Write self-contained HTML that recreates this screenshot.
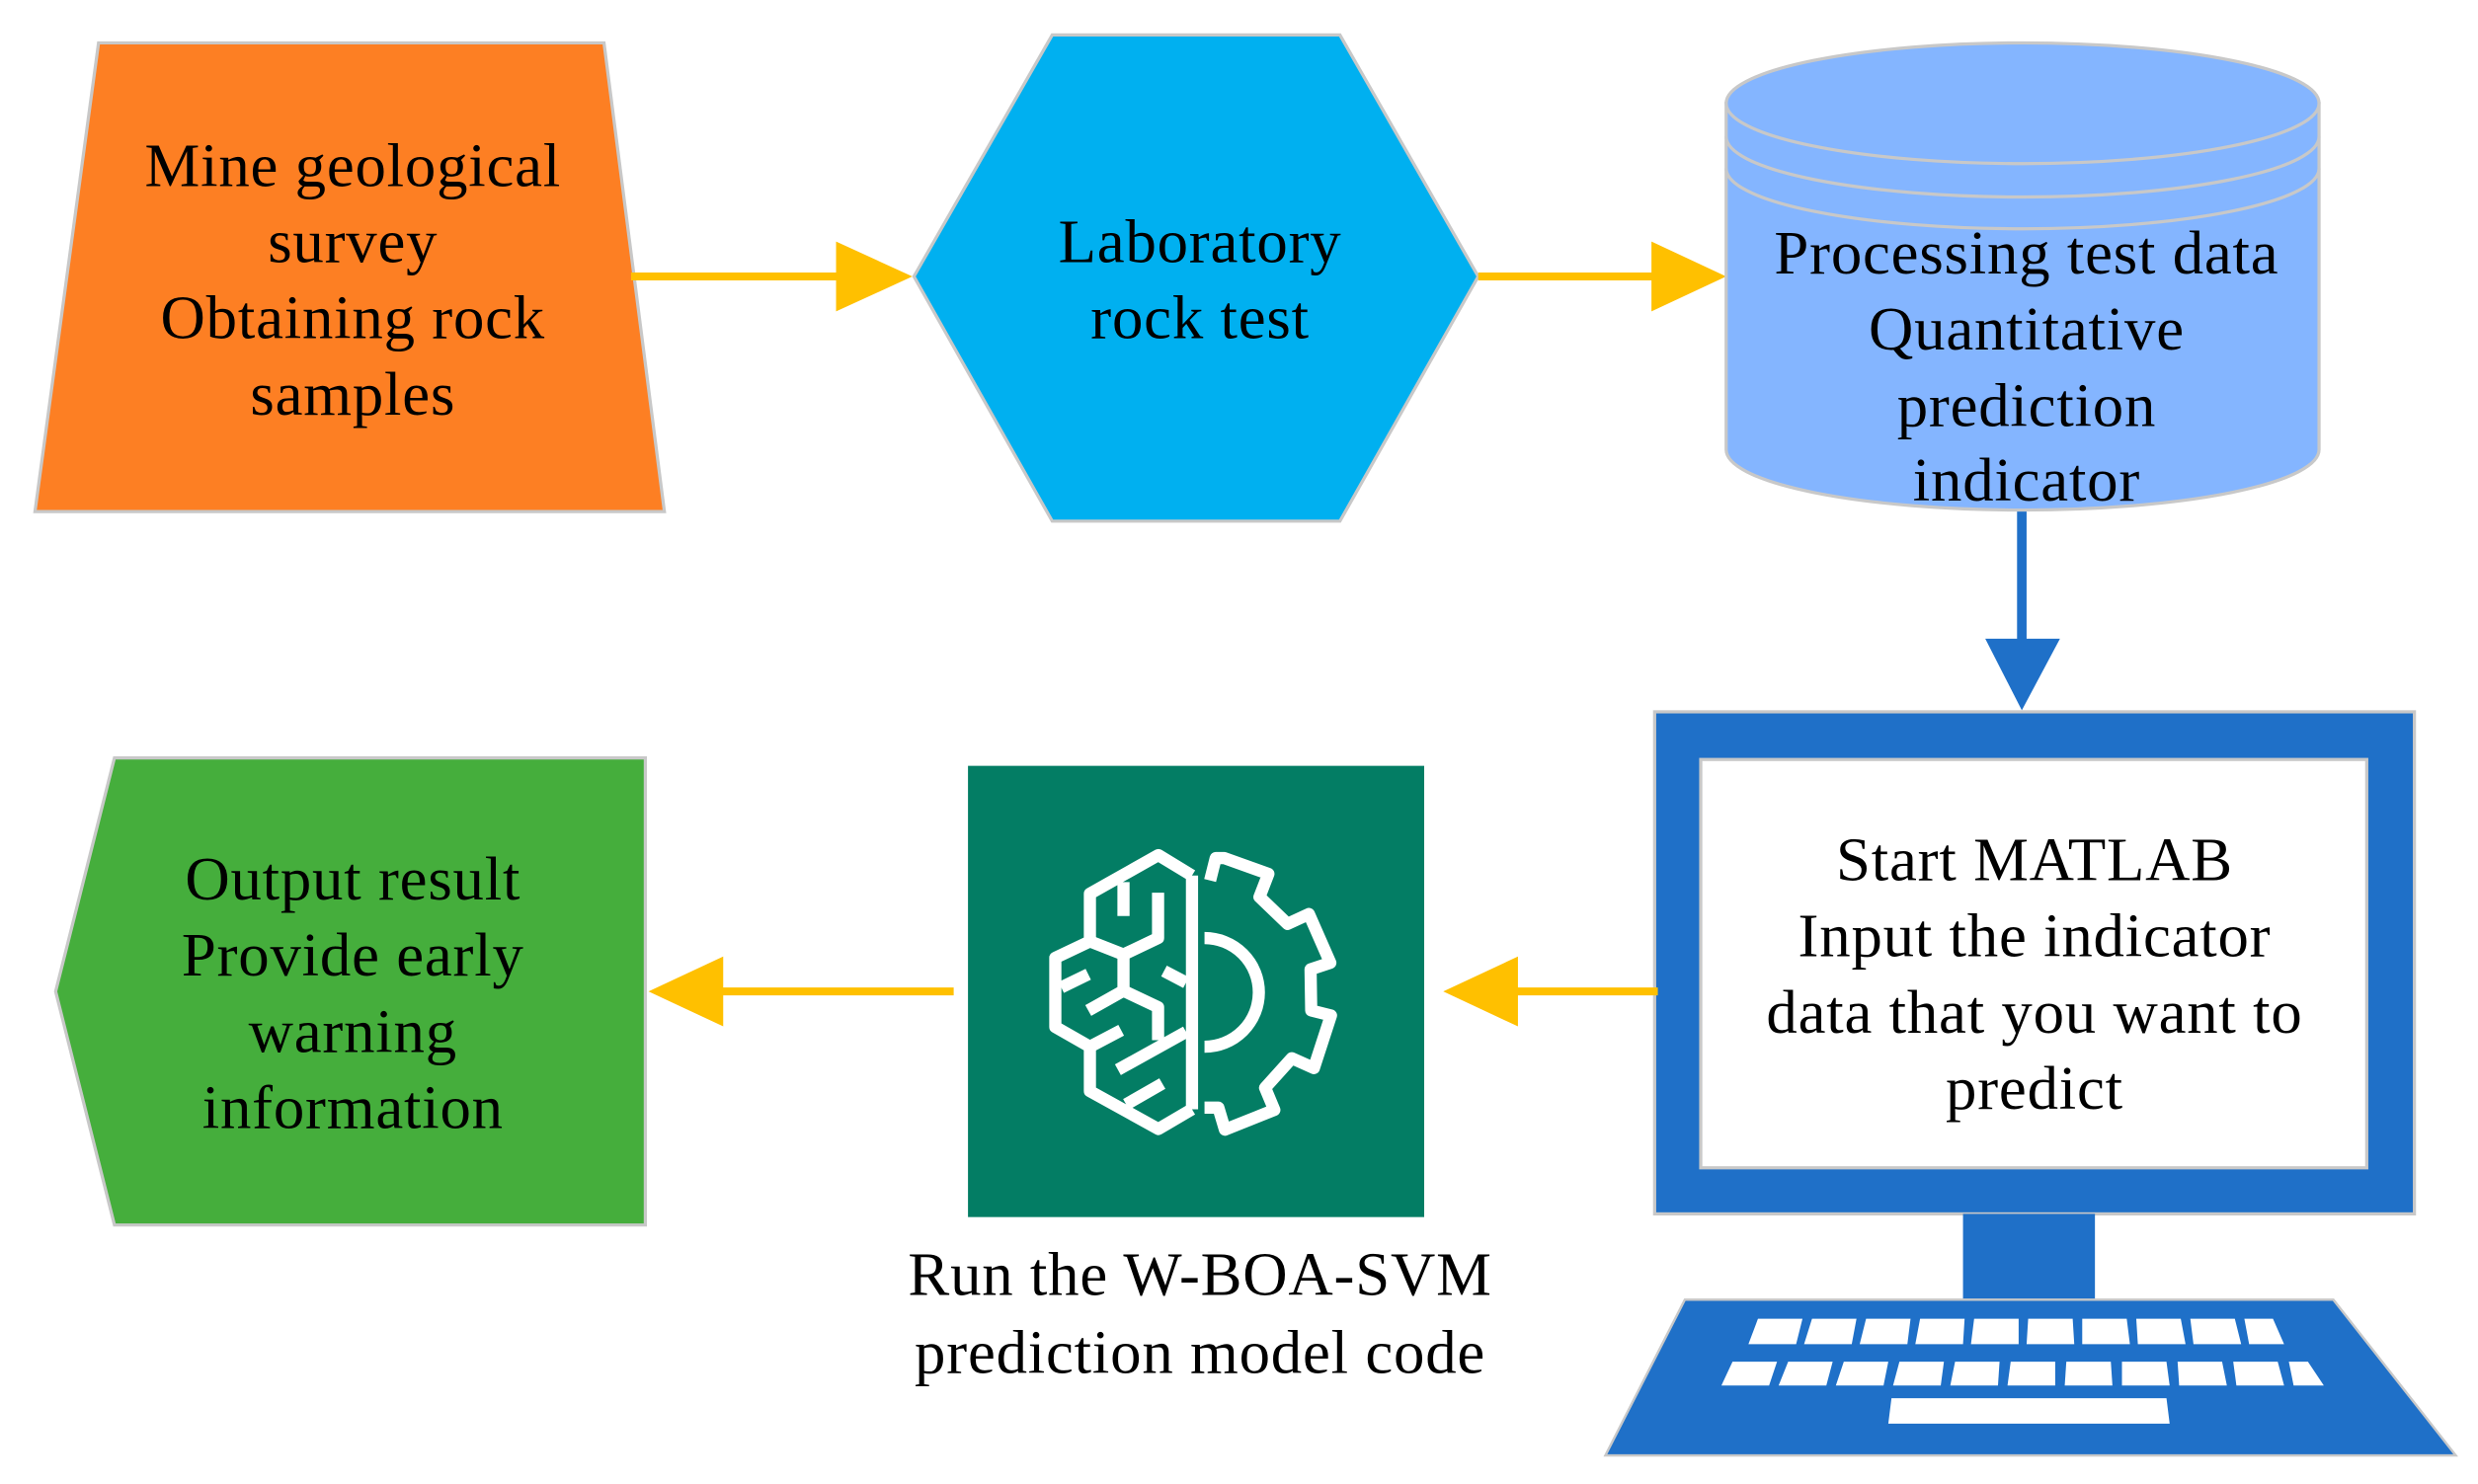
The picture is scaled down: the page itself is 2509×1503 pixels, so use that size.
<!DOCTYPE html>
<html><head><meta charset="utf-8"><style>
html,body{margin:0;padding:0;background:#fff;}
svg{display:block;}
text{font-family:"Liberation Serif",serif;font-size:39px;letter-spacing:0.5px;fill:#000;text-anchor:middle;}
</style></head><body>
<svg width="2509" height="1503" viewBox="0 0 1559 934" preserveAspectRatio="none" xmlns="http://www.w3.org/2000/svg">
<rect width="1559" height="934" fill="#fff"/>
<polygon points="62,27 380,27 418,322 22,322" fill="#FD7F23" stroke="#C8C8C8" stroke-width="2"/>
<text x="222" y="117">Mine geological</text>
<text x="222" y="165">survey</text>
<text x="222" y="213">Obtaining rock</text>
<text x="222" y="261">samples</text>
<line x1="397" y1="174" x2="530" y2="174" stroke="#FFC000" stroke-width="5"/>
<polygon points="526,152 574,174 526,196" fill="#FFC000"/>
<polygon points="662,22 843,22 930,174 843,328 662,328 575,174" fill="#00B0F0" stroke="#C8C8C8" stroke-width="2"/>
<text x="755" y="165">Laboratory</text>
<text x="755" y="213">rock test</text>
<line x1="930" y1="174" x2="1042" y2="174" stroke="#FFC000" stroke-width="5"/>
<polygon points="1039,152 1086,174 1039,196" fill="#FFC000"/>
<path d="M1086,65 L1086,283 A186.5,38 0 0 0 1459,283 L1459,65 Z" fill="#84B5FF" stroke="#C8C8C8" stroke-width="2"/>
<ellipse cx="1272.5" cy="65" rx="186.5" ry="38" fill="#84B5FF" stroke="#C8C8C8" stroke-width="2"/>
<path d="M1086,86 A186.5,38 0 0 0 1459,86" fill="none" stroke="#C8C8C8" stroke-width="2"/>
<path d="M1086,106 A186.5,38 0 0 0 1459,106" fill="none" stroke="#C8C8C8" stroke-width="2"/>
<text x="1275" y="172">Processing test data</text>
<text x="1275" y="220">Quantitative</text>
<text x="1275" y="268">prediction</text>
<text x="1275" y="315">indicator</text>
<line x1="1272" y1="322" x2="1272" y2="405" stroke="#1F70C8" stroke-width="6"/>
<polygon points="1249,402 1296,402 1272,447" fill="#1F70C8"/>
<rect x="1041" y="448" width="478" height="316" fill="#1F70C8" stroke="#C8C8C8" stroke-width="2"/>
<rect x="1070" y="478" width="419" height="257" fill="#fff" stroke="#C8C8C8" stroke-width="2"/>
<rect x="1235" y="764" width="83" height="54" fill="#1F70C8"/>
<polygon points="1060,818 1468,818 1545,916 1010,916" fill="#1F70C8" stroke="#C8C8C8" stroke-width="1.5"/>
<g fill="#fff">
<polygon points="1106,830 1134,830 1130,846 1100,846"/>
<polygon points="1140,830 1168,830 1165,846 1135,846"/>
<polygon points="1174,830 1202,830 1200,846 1170,846"/>
<polygon points="1208,830 1236,830 1235,846 1205,846"/>
<polygon points="1242,830 1270,830 1270,846 1240,846"/>
<polygon points="1276,830 1304,830 1305,846 1275,846"/>
<polygon points="1310,830 1338,830 1340,846 1310,846"/>
<polygon points="1344,830 1372,830 1375,846 1345,846"/>
<polygon points="1378,830 1406,830 1410,846 1380,846"/>
<polygon points="1412,830 1430,830 1437,846 1415,846"/>
<polygon points="1090,857 1118,857 1113,872 1083,872"/>
<polygon points="1125,857 1153,857 1149,872 1119,872"/>
<polygon points="1160,857 1188,857 1185,872 1155,872"/>
<polygon points="1195,857 1223,857 1221,872 1191,872"/>
<polygon points="1230,857 1258,857 1257,872 1227,872"/>
<polygon points="1265,857 1293,857 1293,872 1263,872"/>
<polygon points="1300,857 1328,857 1329,872 1299,872"/>
<polygon points="1335,857 1363,857 1365,872 1335,872"/>
<polygon points="1370,857 1398,857 1401,872 1371,872"/>
<polygon points="1405,857 1433,857 1437,872 1407,872"/>
<polygon points="1440,857 1452,857 1462,872 1443,872"/>
<polygon points="1190,880 1363,880 1365,896 1188,896"/>
</g>
<text x="1280" y="554">Start MATLAB</text>
<text x="1280" y="602">Input the indicator</text>
<text x="1280" y="650">data that you want to</text>
<text x="1280" y="698">predict</text>
<line x1="1043" y1="624" x2="950" y2="624" stroke="#FFC000" stroke-width="5"/>
<polygon points="955,602 908,624 955,646" fill="#FFC000"/>
<rect x="609" y="482" width="287" height="284" fill="#037D64"/>
<g transform="translate(596.6,472.3) scale(0.2072)" fill="none" stroke="#fff" stroke-width="37" stroke-linejoin="round">
<path d="M740,380 L740,1090"/>
<path d="M740,380 L638,318 L430,435 L430,580 L325,630 L325,840 L430,900 L430,1035 L638,1150 L740,1090"/>
<path d="M532,400 L532,503"/>
<path d="M637,432 L637,570 L532,620 L430,580"/>
<path d="M532,620 L532,730 L637,780 L637,880"/>
<path d="M532,730 L425,790"/>
<path d="M343,720 L425,680"/>
<path d="M655,670 L722,705"/>
<path d="M430,900 L525,850"/>
<path d="M515,970 L722,855"/>
<path d="M540,1075 L650,1012"/>
<path d="M795,395 L812,327 L838,327 L972,375 L945,445 L1030,527 L1095,497 L1160,645 L1100,665 L1102,790 L1162,805 L1110,965 L1043,935 L962,1025 L990,1092 L840,1152 L820,1085 L778,1085"/>
<path d="M778,570 A165,165 0 0 1 778,900"/>
</g>
<text x="755" y="815">Run the W-BOA-SVM</text>
<text x="755" y="864">prediction model code</text>
<line x1="600" y1="624" x2="450" y2="624" stroke="#FFC000" stroke-width="5"/>
<polygon points="455,602 408,624 455,646" fill="#FFC000"/>
<polygon points="72,477 406,477 406,771 72,771 35,624" fill="#45AE3C" stroke="#C8C8C8" stroke-width="2"/>
<text x="222" y="566">Output result</text>
<text x="222" y="614">Provide early</text>
<text x="222" y="662">warning</text>
<text x="222" y="710">information</text>
</svg>
</body></html>
